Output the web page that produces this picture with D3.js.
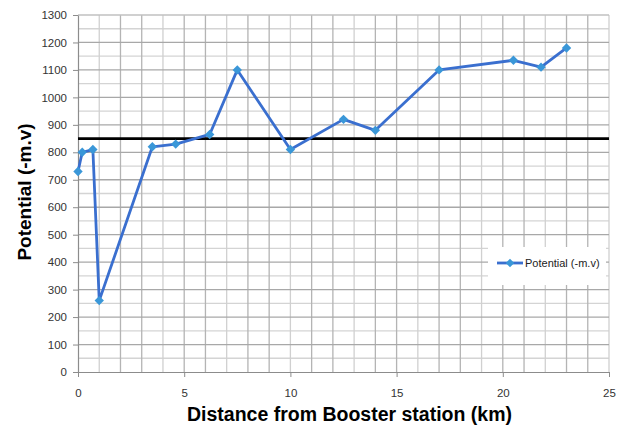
<!DOCTYPE html>
<html><head><meta charset="utf-8">
<script src="https://cdn.jsdelivr.net/npm/d3@7"></script>
<style>body{margin:0;background:#fff}svg{display:block}</style>
</head><body>
<svg id="c" width="625" height="428"></svg>
<script>
const distance = [0, 0.2, 0.7, 1, 3.5, 4.6, 6.2, 7.5, 10, 12.5, 14, 17, 20.5, 21.8, 23];
const potential = [730, 800, 810, 260, 820, 830, 865, 1100, 810, 920, 880, 1100, 1135, 1110, 1180];
const threshold = 850;
const xTicks = [0, 5, 10, 15, 20, 25];
const yTicks = d3.range(0, 1301, 100);
const seriesName = "Potential (-m.v)";

const svg = d3.select("#c");
const m = {l: 78, r: 609, t: 15, b: 372};
const x = d3.scaleLinear().domain([0, 25]).range([m.l, m.r]);
const y = d3.scaleLinear().domain([0, 1300]).range([m.b, m.t]);
const font = "'Liberation Sans', Arial, sans-serif";

// minor horizontal grid
svg.append("g").selectAll("line").data(d3.range(50, 1300, 100)).join("line")
  .attr("x1", m.l).attr("x2", m.r).attr("y1", d => y(d)).attr("y2", d => y(d))
  .attr("stroke", "#d4d4d4").attr("stroke-width", 1.3);
// vertical grid
svg.append("g").selectAll("line").data(d3.range(1, 26, 1)).join("line")
  .attr("x1", d => x(d)).attr("x2", d => x(d)).attr("y1", m.t).attr("y2", m.b)
  .attr("stroke", (d, i) => (i % 3 === 0 ? "#d0d0d0" : "#b4b4b4")).attr("stroke-width", 1.3);
// major horizontal grid
svg.append("g").selectAll("line").data(yTicks.filter(d => d > 0)).join("line")
  .attr("x1", m.l).attr("x2", m.r).attr("y1", d => y(d)).attr("y2", d => y(d))
  .attr("stroke", (d) => d === 1300 ? "#c0c0c0" : "#a8a8a8").attr("stroke-width", 1.3);

// axes
const yAxis = svg.append("g").attr("transform", `translate(${m.l},0)`)
  .call(d3.axisLeft(y).tickValues(yTicks).tickFormat(d3.format("d")).tickSize(5).tickPadding(6).tickSizeOuter(0));
const xAxis = svg.append("g").attr("transform", `translate(0,${m.b})`)
  .call(d3.axisBottom(x).tickValues(xTicks).tickFormat(d3.format("d")).tickSize(5).tickPadding(12).tickSizeOuter(0));
[yAxis, xAxis].forEach(a => {
  a.select(".domain").attr("stroke", "#8c8c8c").attr("stroke-width", 1.2);
  a.selectAll(".tick line").attr("stroke", "#8c8c8c");
  a.selectAll("text").attr("font-family", font).attr("font-size", 11.5).attr("fill", "#333");
});

// threshold line
svg.append("line").attr("x1", m.l).attr("x2", m.r)
  .attr("y1", y(threshold)).attr("y2", y(threshold))
  .attr("stroke", "#000").attr("stroke-width", 2.6);

// series
const pts = distance.map((d, i) => [d, potential[i]]);
svg.append("path").datum(pts)
  .attr("d", d3.line().x(d => x(d[0])).y(d => y(d[1])))
  .attr("fill", "none").attr("stroke", "#3a6fcf").attr("stroke-width", 2.8)
  .attr("stroke-linejoin", "round");
svg.append("g").selectAll("path").data(pts).join("path")
  .attr("d", d3.symbol().type(d3.symbolSquare).size(44))
  .attr("transform", d => `translate(${x(d[0])},${y(d[1])}) rotate(45)`)
  .attr("fill", "#3a97d8");

// legend
const lg = svg.append("g");
lg.append("rect").attr("x", 488).attr("y", 247).attr("width", 118).attr("height", 38).attr("fill", "#fff");
lg.append("line").attr("x1", 497).attr("x2", 523).attr("y1", 263).attr("y2", 263)
  .attr("stroke", "#3a6fcf").attr("stroke-width", 2.8);
lg.append("path").attr("transform", "translate(510,263) rotate(45)")
  .attr("d", d3.symbol().type(d3.symbolSquare).size(36)).attr("fill", "#3a97d8");
lg.append("text").attr("x", 525).attr("y", 267).text(seriesName)
  .attr("font-family", font).attr("font-size", 11).attr("fill", "#222");

// titles
svg.append("text").attr("x", (m.l + m.r) / 2 + 6).attr("y", 421).attr("text-anchor", "middle")
  .attr("font-family", font).attr("font-weight", "bold").attr("font-size", 19.5).attr("fill", "#000")
  .text("Distance from Booster station (km)");
svg.append("text").attr("transform", "translate(31,192) rotate(-90)").attr("text-anchor", "middle")
  .attr("font-family", font).attr("font-weight", "bold").attr("font-size", 19).attr("fill", "#000")
  .text("Potential (-m.v)");
</script>
</body></html>
